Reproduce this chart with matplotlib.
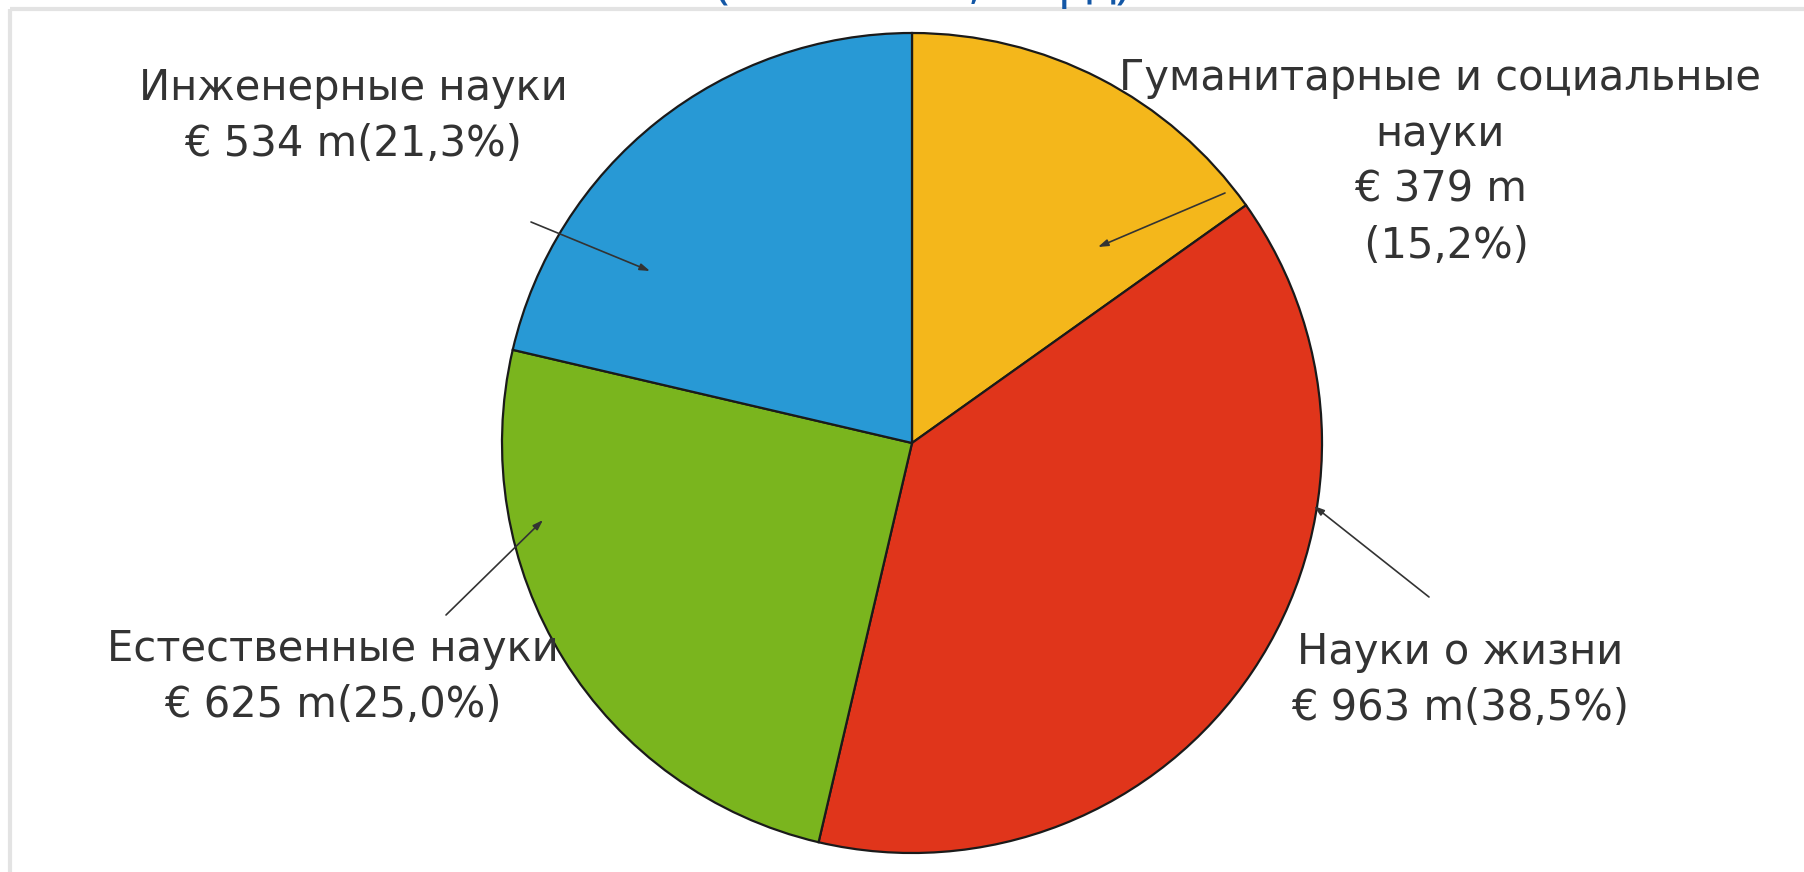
import matplotlib
matplotlib.use("Agg")
import matplotlib.pyplot as plt

# ---- data ----
categories = ["Гуманитарные и социальные\nнауки", "Науки о жизни", "Естественные науки", "Инженерные науки"]
values = [379, 963, 625, 534]
percents = ["15,2%", "38,5%", "25,0%", "21,3%"]
colors = ["#F4B71B", "#E0351B", "#7AB51E", "#2899D5"]
label_texts = [
    "Гуманитарные и социальные\nнауки\n€ 379 m\n (15,2%)",
    "Науки о жизни\n€ 963 m(38,5%)",
    "Естественные науки\n€ 625 m(25,0%)",
    "Инженерные науки\n€ 534 m(21,3%)",
]
title_text = "(2007–2013, млрд)"

W, H = 1804, 872
fig = plt.figure(figsize=(W / 100, H / 100), dpi=100)
ax = fig.add_axes([0, 0, 1, 1])

def Y(y):
    return H - y

cx, cy, r = 912, 443, 410
ax.pie(values, colors=colors, startangle=90, counterclock=False,
       center=(cx, Y(cy)), radius=r,
       wedgeprops=dict(edgecolor="#1a1a1a", linewidth=1.6))

ax.set_xlim(0, W)
ax.set_ylim(0, H)
ax.set_aspect("auto")
ax.axis("off")

# label positions (pixel coords, y down)
label_pos = [(1440, 162), (1460, 680), (333, 677), (353, 116)]
arrow_from = [(1225, 193), (1429, 597), (446, 615), (531, 222)]
arrow_to = [(1098, 247), (1314, 506), (543, 520), (650, 271)]

for txt, (x, y) in zip(label_texts, label_pos):
    ax.text(x, Y(y), txt, ha="center", va="center", fontsize=30,
            color="#333333", linespacing=1.42, family="DejaVu Sans")

for (x0, y0), (x1, y1) in zip(arrow_from, arrow_to):
    ax.annotate("", xy=(x1, Y(y1)), xytext=(x0, Y(y0)),
                arrowprops=dict(arrowstyle="-|>,head_length=0.6,head_width=0.2",
                                color="#333333", lw=1.2, shrinkA=0, shrinkB=0))

# frame of the original image
ax.plot([10, W], [Y(9), Y(9)], color="#e3e3e3", lw=3, solid_capstyle="butt")
ax.plot([10, 10], [Y(9), 0], color="#e3e3e3", lw=3, solid_capstyle="butt")

# clipped title at the very top (only descenders visible, as in the reference)
fig.text(0.5 * (710 + 1135) / W, 1 + 2 / H, title_text, ha="center", va="baseline",
         fontsize=34, fontweight="bold", color="#1357A6", family="Noto Sans")

fig.savefig("out.png", dpi=100)
